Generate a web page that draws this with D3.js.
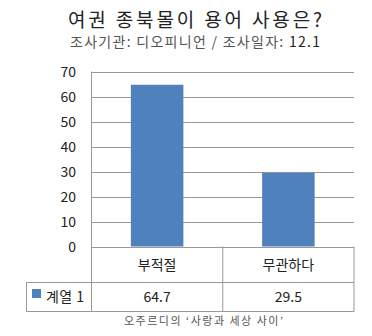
<!DOCTYPE html>
<html>
<head>
<meta charset="utf-8">
<script src="https://cdn.jsdelivr.net/npm/d3@7"></script>
<style>
  body { margin: 0; background: #fff; }
  text { font-family: "Noto Sans CJK KR", "Noto Sans", sans-serif; }
</style>
</head>
<body>
<div id="chart"></div>
<script>
const categories = ['부적절', '무관하다'];
const values = [64.7, 29.5];
const seriesName = '계열 1';
const yTicks = [0, 10, 20, 30, 40, 50, 60, 70];

const width = 372;
const height = 336;
const plot = { left: 91.5, right: 354, top: 71.5, bottom: 246.5 };
const table = { left: 26.5, rowMid: 282.5, bottom: 311.5 };
const lineColor = '#999';

const svg = d3.select('#chart')
  .append('svg')
  .attr('width', width)
  .attr('height', height);

const x = d3.scaleBand()
  .domain(categories)
  .range([plot.left, plot.right])
  .paddingInner(0.6)
  .paddingOuter(0.3);

const band = d3.scaleBand()
  .domain(categories)
  .range([plot.left, plot.right]);

const y = d3.scaleLinear()
  .domain([0, 70])
  .range([plot.bottom, plot.top]);

// title
svg.append('text')
  .attr('x', 68).attr('y', 27)
  .attr('textLength', 254)
  .attr('lengthAdjust', 'spacing')
  .attr('font-size', 19)
  .attr('fill', '#222')
  .text('여권 종북몰이 용어 사용은?');

svg.append('text')
  .attr('x', 70).attr('y', 47)
  .attr('textLength', 250)
  .attr('lengthAdjust', 'spacing')
  .attr('font-size', 14)
  .attr('fill', '#555')
  .text('조사기관: 디오피니언 / 조사일자: ')
  .append('tspan')
  .attr('fill', '#222')
  .text('12.1');

// gridlines
svg.append('g')
  .selectAll('line')
  .data(yTicks)
  .enter().append('line')
  .attr('x1', plot.left).attr('x2', plot.right)
  .attr('y1', d => Math.round(y(d)) + 0.5)
  .attr('y2', d => Math.round(y(d)) + 0.5)
  .attr('stroke', lineColor);

// y axis labels
svg.append('g')
  .selectAll('text')
  .data(yTicks)
  .enter().append('text')
  .attr('x', 76)
  .attr('y', d => y(d) + 5)
  .attr('text-anchor', 'end')
  .attr('font-size', 14)
  .attr('fill', '#222')
  .text(d => d);

// bars
svg.append('g')
  .selectAll('rect')
  .data(values)
  .enter().append('rect')
  .attr('x', (d, i) => x(categories[i]))
  .attr('width', x.bandwidth())
  .attr('y', d => y(d))
  .attr('height', d => y(0) - y(d))
  .attr('fill', '#4F81BD');

// table lines
const g = svg.append('g').attr('stroke', lineColor).attr('fill', 'none');
g.append('line').attr('x1', plot.left).attr('x2', plot.left)
  .attr('y1', plot.top).attr('y2', table.bottom);
g.append('line').attr('x1', plot.right).attr('x2', plot.right)
  .attr('y1', plot.bottom).attr('y2', table.bottom);
g.append('line').attr('x1', band(categories[1])).attr('x2', band(categories[1]))
  .attr('y1', plot.bottom).attr('y2', table.bottom);
g.append('line').attr('x1', table.left).attr('x2', plot.right)
  .attr('y1', table.rowMid).attr('y2', table.rowMid);
g.append('line').attr('x1', table.left).attr('x2', plot.right)
  .attr('y1', table.bottom).attr('y2', table.bottom);
g.append('line').attr('x1', table.left).attr('x2', table.left)
  .attr('y1', table.rowMid).attr('y2', table.bottom);

// category labels
svg.append('g')
  .selectAll('text')
  .data(categories)
  .enter().append('text')
  .attr('x', d => band(d) + band.bandwidth() / 2)
  .attr('y', 270)
  .attr('text-anchor', 'middle')
  .attr('font-size', 14)
  .attr('fill', '#222')
  .text(d => d);

// value row
svg.append('g')
  .selectAll('text')
  .data(values)
  .enter().append('text')
  .attr('x', (d, i) => band(categories[i]) + band.bandwidth() / 2)
  .attr('y', 302)
  .attr('text-anchor', 'middle')
  .attr('font-size', 14)
  .attr('fill', '#222')
  .text(d => d);

// legend cell
svg.append('rect')
  .attr('x', 32).attr('y', 289)
  .attr('width', 9).attr('height', 9)
  .attr('fill', '#4F81BD');
svg.append('text')
  .attr('x', 46).attr('y', 302)
  .attr('textLength', 38)
  .attr('lengthAdjust', 'spacing')
  .attr('font-size', 14)
  .attr('fill', '#222')
  .text(seriesName);

// footer
svg.append('text')
  .attr('x', 124).attr('y', 325)
  .attr('textLength', 159)
  .attr('lengthAdjust', 'spacing')
  .attr('font-size', 11)
  .attr('fill', '#555')
  .text('오주르디의 ‘사랑과 세상 사이’');
</script>
</body>
</html>
